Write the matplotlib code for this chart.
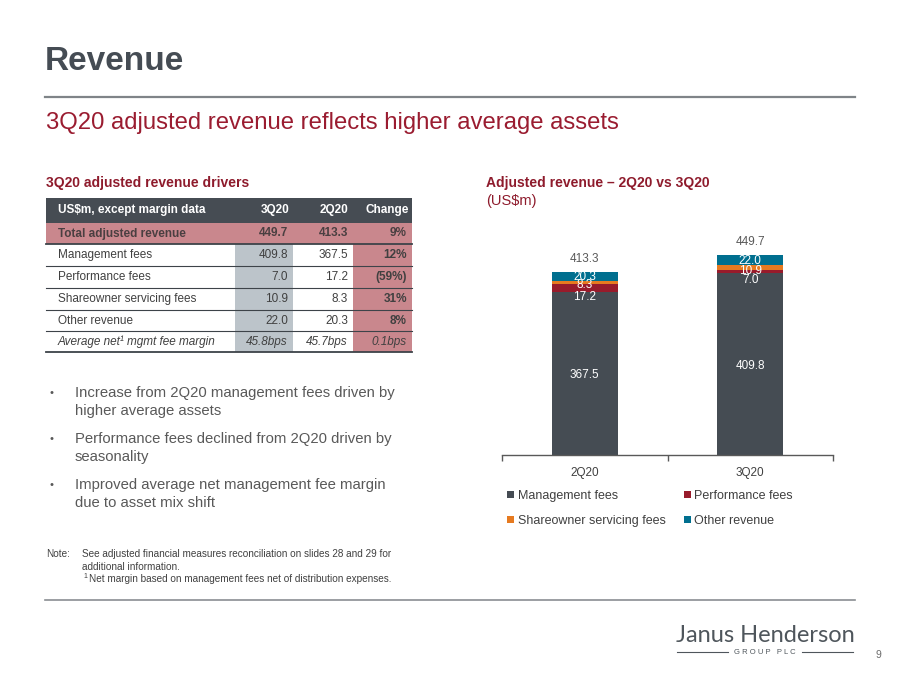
import matplotlib.pyplot as plt
from matplotlib.patches import Rectangle

plt.rcParams['font.family'] = ['Liberation Sans', 'DejaVu Sans']

# table data
row_labels = ["Total adjusted revenue", "Management fees", "Performance fees",
              "Shareowner servicing fees", "Other revenue", "Average net\u00b9 mgmt fee margin"]
col_3q20 = ["449.7", "409.8", "7.0", "10.9", "22.0", "45.8bps"]
col_2q20 = ["413.3", "367.5", "17.2", "8.3", "20.3", "45.7bps"]
col_change = ["9%", "12%", "(59%)", "31%", "8%", "0.1bps"]

# chart data
quarters = ["2Q20", "3Q20"]
mgmt_fees = [367.5, 409.8]
perf_fees = [17.2, 7.0]
share_fees = [8.3, 10.9]
other_rev = [20.3, 22.0]
totals = [413.3, 449.7]

bullets = [
    ["Increase from 2Q20 management fees driven by", "higher average assets"],
    ["Performance fees declined from 2Q20 driven by", "seasonality"],
    ["Improved average net management fee margin", "due to asset mix shift"],
]

DARK = "#464c53"
RED = "#8e1b2c"
PINK = "#c9878d"
BLUE_GREY = "#bcc4ca"
TXT = "#404040"
C_MGMT, C_PERF, C_SHARE, C_OTHER = "#454c53", "#981b2b", "#e67a20", "#006f8f"

fig = plt.figure(figsize=(9, 6.75), dpi=100)

# pixel-space overlay for the slide furniture
bg = fig.add_axes([0, 0, 1, 1])
bg.set_xlim(0, 900)
bg.set_ylim(675, 0)
bg.axis("off")

bg.text(45, 62, "Revenue", fontsize=24, fontweight="bold", color="#454c54", va="center")
bg.plot([45, 855], [97, 97], color="#7f8488", lw=1.6)
bg.text(46, 123, "3Q20 adjusted revenue reflects higher average assets",
        fontsize=17.2, color="#9a1c30", va="center")

bg.text(46, 183, "3Q20 adjusted revenue drivers", fontsize=10, fontweight="bold", color=RED, va="center")
bg.text(486, 183, "Adjusted revenue \u2013 2Q20 vs 3Q20", fontsize=10, fontweight="bold", color=RED, va="center")
bg.text(486, 201, "(US$m)", fontsize=10.5, color=RED, va="center")

# ---- table ----
left, right = 46, 412
c1_l, c1_r = 235, 293
c3_l = 353
header_top, header_bot = 198, 223
row_edges = [223, 244, 266, 288, 310, 331, 352]

bg.add_patch(Rectangle((left, header_top), right - left, header_bot - header_top, color=DARK, lw=0))
bg.add_patch(Rectangle((left, row_edges[0]), right - left, row_edges[1] - row_edges[0], color=PINK, lw=0))
bg.add_patch(Rectangle((c1_l, row_edges[1]), c1_r - c1_l, row_edges[-1] - row_edges[1], color=BLUE_GREY, lw=0))
bg.add_patch(Rectangle((c3_l, row_edges[1]), right - c3_l, row_edges[-1] - row_edges[1], color=PINK, lw=0))

hy = (header_top + header_bot) / 2
hkw = dict(fontsize=8.5, fontweight="bold", color="white", va="center")
bg.text(58, hy, "US$m, except margin data", **hkw)
bg.text(290, hy, "3Q20", ha="right", **hkw)
bg.text(348, hy, "2Q20", ha="right", **hkw)
bg.text(409, hy, "Change", ha="right", **hkw)

for i, lab in enumerate(row_labels):
    y = (row_edges[i] + row_edges[i + 1]) / 2
    kw = dict(fontsize=8.5, va="center", color=TXT)
    if i == 0:
        kw.update(fontweight="bold", color="#4a3f41")
    if i == len(row_labels) - 1:
        kw.update(style="italic")
    bg.text(58, y, lab, **kw)
    bg.text(288, y, col_3q20[i], ha="right", **kw)
    bg.text(348, y, col_2q20[i], ha="right", **kw)
    ckw = dict(kw)
    if i < len(row_labels) - 1:
        ckw.update(fontweight="bold")
    bg.text(407, y, col_change[i], ha="right", **ckw)
    bg.plot([left, right], [row_edges[i + 1], row_edges[i + 1]], color="#3d4349",
            lw=1.3 if i in (0, len(row_labels) - 1) else 0.8)

# ---- bullets ----
by = [393, 439, 485]
for y0, lines in zip(by, bullets):
    bg.text(49, y0, "\u2022", fontsize=8, color="#595959", va="center")
    for k, line in enumerate(lines):
        bg.text(75, y0 + k * 18, line, fontsize=10.7, color="#595959", va="center")

# ---- notes ----
nkw = dict(fontsize=7.2, color=TXT, va="center")
bg.text(46, 554, "Note:", **nkw)
bg.text(82, 554, "See adjusted financial measures reconciliation on slides 28 and 29 for", **nkw)
bg.text(82, 567, "additional information.", **nkw)
bg.text(83, 577, "1", fontsize=5, color=TXT, va="center")
bg.text(89, 579, "Net margin based on management fees net of distribution expenses.", **nkw)

bg.plot([45, 855], [600, 600], color="#8a8e92", lw=1.2)

# ---- logo + page number ----
bg.text(765, 635, "Janus Henderson", family=["Lato", "DejaVu Sans"], fontsize=17,
        color="#4f565c", ha="center", va="center")
bg.text(765, 652, "G R O U P   P L C", fontsize=5.5, color="#4f565c", ha="center", va="center")
bg.plot([677, 728], [652, 652], color="#4f565c", lw=0.8)
bg.plot([802, 853], [652, 652], color="#4f565c", lw=0.8)
bg.text(878, 655, "9", fontsize=7.5, color="#6b6b6b", ha="center", va="center")

# ---- stacked bar chart ----
px_per_unit = 0.4437
ax_bottom, ax_h = 455, 230
ax = fig.add_axes([502 / 900, (675 - ax_bottom) / 675, (833 - 502) / 900, ax_h / 675])
ax.set_ylim(0, ax_h / px_per_unit)
ax.set_xlim(-0.5, 1.5)
ax.patch.set_alpha(0)

x = [0, 1]
w = 0.40
series = [("Management fees", mgmt_fees, C_MGMT, 2),
          ("Performance fees", perf_fees, C_PERF, 8.5),
          ("Shareowner servicing fees", share_fees, C_SHARE, 3),
          ("Other revenue", other_rev, C_OTHER, 1)]
bottoms = [0.0, 0.0]
handles = {}
for name, vals, col, off in series:
    bars = ax.bar(x, vals, w, bottom=bottoms, color=col, label=name, zorder=2)
    handles[name] = bars
    for xi, v, b in zip(x, vals, bottoms):
        ax.annotate(f"{v:.1f}", (xi, b + v / 2), xytext=(0, -off), textcoords="offset pixels",
                    ha="center", va="center", fontsize=8.5, color="white")
    bottoms = [b + v for b, v in zip(bottoms, vals)]

for xi, t in zip(x, totals):
    ax.annotate(f"{t:.1f}", (xi, t), xytext=(0, 13), textcoords="offset pixels",
                ha="center", va="center", fontsize=8.5, color="#595959")

for s in ["top", "right", "left"]:
    ax.spines[s].set_visible(False)
ax.spines["bottom"].set_color("#595959")
ax.spines["bottom"].set_linewidth(1)
ax.set_yticks([])
ax.set_xticks([-0.5, 0.5, 1.5])
ax.set_xticklabels([])
ax.tick_params(axis="x", direction="out", length=4, color="#595959", width=1)
for xi, q in zip(x, quarters):
    ax.annotate(q, (xi, 0), xytext=(0, -18), textcoords="offset pixels",
                ha="center", va="center", fontsize=8.5, color=TXT, annotation_clip=False)

order = ["Management fees", "Shareowner servicing fees", "Performance fees", "Other revenue"]
leg = ax.legend([handles[n] for n in order], order, ncol=2, frameon=False,
                loc="upper left", bbox_to_anchor=(507 / 900, 1 - 490 / 675),
                bbox_transform=fig.transFigure, fontsize=9, handlelength=0.55,
                handleheight=0.55, handletextpad=0.3, columnspacing=1.45,
                labelspacing=1.05, borderpad=0, borderaxespad=0)
for t in leg.get_texts():
    t.set_color(TXT)

fig.savefig("out.png", dpi=100)
